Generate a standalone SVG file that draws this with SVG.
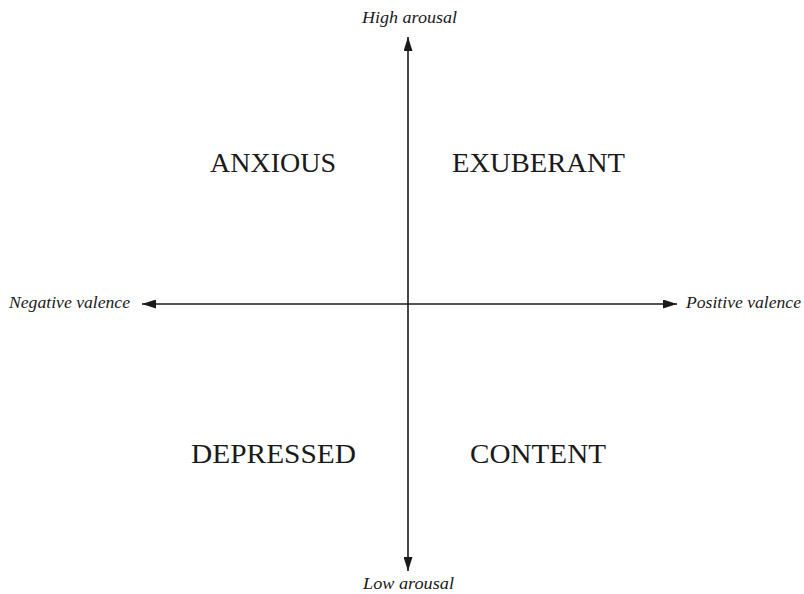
<svg xmlns="http://www.w3.org/2000/svg" width="804" height="594" viewBox="0 0 804 594">
<style>
.ax{stroke:#1a1a1a;stroke-width:1.6;fill:none}
.lab{font-family:"Liberation Serif",serif;font-style:italic;font-size:16px;fill:#1a1a1a}
.q{font-family:"Liberation Serif",serif;font-size:27px;fill:#1a1a1a}
</style>
<defs>
<marker id="ah" viewBox="0 0 14 9" refX="14" refY="4.5" markerWidth="14" markerHeight="9" markerUnits="userSpaceOnUse" orient="auto-start-reverse">
<path d="M0,0 L14,4.5 L0,9 Z" fill="#1a1a1a"/>
</marker>
</defs>
<g id="connectors">
<line class="ax" x1="408" y1="571" x2="408" y2="37" marker-start="url(#ah)" marker-end="url(#ah)"/>
<line class="ax" x1="142" y1="304" x2="677" y2="304" marker-start="url(#ah)" marker-end="url(#ah)"/>
</g>
<g id="high"><text class="lab" x="362" y="23" textLength="95" lengthAdjust="spacingAndGlyphs">High arousal</text></g>
<g id="low"><text class="lab" x="363" y="589" textLength="91" lengthAdjust="spacingAndGlyphs">Low arousal</text></g>
<g id="neg"><text class="lab" x="9" y="308" textLength="121" lengthAdjust="spacingAndGlyphs">Negative valence</text></g>
<g id="pos"><text class="lab" x="686" y="308" textLength="115" lengthAdjust="spacingAndGlyphs">Positive valence</text></g>
<g id="anxious"><text class="q" x="210" y="172" textLength="126" lengthAdjust="spacingAndGlyphs">ANXIOUS</text></g>
<g id="exuberant"><text class="q" x="452" y="172" textLength="173" lengthAdjust="spacingAndGlyphs">EXUBERANT</text></g>
<g id="depressed"><text class="q" x="191" y="463" textLength="165" lengthAdjust="spacingAndGlyphs">DEPRESSED</text></g>
<g id="content"><text class="q" x="470" y="463" textLength="136" lengthAdjust="spacingAndGlyphs">CONTENT</text></g>
</svg>
